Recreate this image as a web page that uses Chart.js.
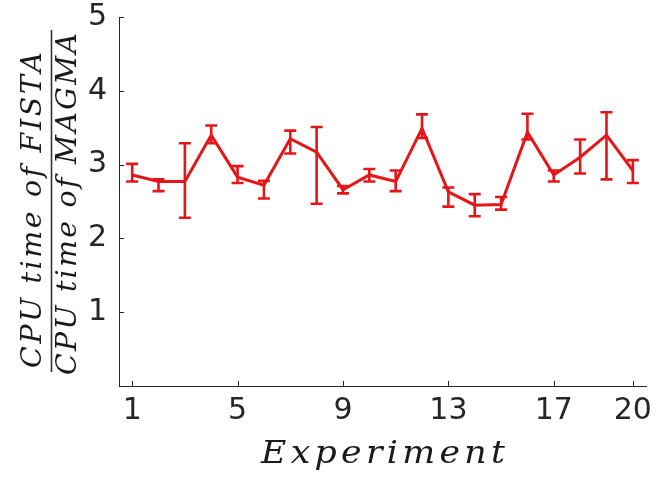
<!DOCTYPE html>
<html>
<head>
<meta charset="utf-8">
<script src="https://cdn.jsdelivr.net/npm/chart.js@4.4.0/dist/chart.umd.min.js"></script>
<style>
html,body{margin:0;padding:0;background:#fff;}
#wrap{width:659px;height:483px;position:relative;}
</style>
</head>
<body>
<div id="wrap"><canvas id="c"></canvas></div>
<script>
// ---- data ----
const experiments = [1,2,3,4,5,6,7,8,9,10,11,12,13,14,15,16,17,18,19,20];
const ratioMean  = [2.86,2.77,2.77,3.40,2.83,2.72,3.35,3.17,2.66,2.86,2.77,3.49,2.63,2.45,2.46,3.44,2.86,3.10,3.40,2.92];
const ratioLow   = [2.77,2.64,2.28,3.29,2.75,2.54,3.15,2.47,2.61,2.77,2.64,3.36,2.43,2.30,2.39,3.34,2.77,2.88,2.80,2.75];
const ratioHigh  = [3.01,2.80,3.29,3.53,2.98,2.78,3.46,3.51,2.71,2.94,2.92,3.68,2.69,2.60,2.56,3.69,2.92,3.34,3.71,3.06];
const xTickValues = [1,5,9,13,17,20];
const yTickValues = [1,2,3,4,5];
const xTitle = 'Experiment';
const yTitleNum = 'CPU time of FISTA';
const yTitleDen = 'CPU time of MAGMA';

const RED = 'rgb(228,22,24)';
const AXIS = '#262626';

function drawFit(ctx, text, x0, target, baseline, stretch) {
  // draw text char by char (optionally stretched) so that it spans `target` px from x0
  ctx.save();
  ctx.translate(x0, baseline);
  ctx.scale(stretch, 1);
  const t = target / stretch;
  const chars = [...text];
  const widths = chars.map(ch => ctx.measureText(ch).width);
  const total = widths.reduce((a,b)=>a+b,0);
  const gap = (t - total) / (chars.length - 1);
  let x = 0;
  chars.forEach((ch,i) => { ctx.fillText(ch, x, 0); x += widths[i] + gap; });
  ctx.restore();
}

const errorBars = {
  id: 'errorBars',
  afterDatasetsDraw(chart) {
    const {ctx, scales:{x, y}} = chart;
    ctx.save();
    ctx.strokeStyle = RED;
    ctx.lineWidth = 2.6;
    const cap = 6;
    experiments.forEach((e,i) => {
      const px = x.getPixelForValue(e);
      const lo = y.getPixelForValue(ratioLow[i]);
      const hi = y.getPixelForValue(ratioHigh[i]);
      ctx.beginPath();
      ctx.moveTo(px, lo); ctx.lineTo(px, hi);
      ctx.moveTo(px-cap, lo); ctx.lineTo(px+cap, lo);
      ctx.moveTo(px-cap, hi); ctx.lineTo(px+cap, hi);
      ctx.stroke();
    });
    ctx.restore();
  }
};

const decorations = {
  id: 'decorations',
  afterDraw(chart) {
    const {ctx, chartArea:{left, bottom}, scales:{x, y}} = chart;
    ctx.save();
    // inward ticks
    ctx.strokeStyle = AXIS; ctx.lineWidth = 1;
    ctx.beginPath();
    yTickValues.forEach(v => { const py = Math.round(y.getPixelForValue(v))+0.5; ctx.moveTo(left, py); ctx.lineTo(left+5, py); });
    xTickValues.forEach(v => { const px = Math.round(x.getPixelForValue(v))+0.5; ctx.moveTo(px, bottom); ctx.lineTo(px, bottom-5); });
    ctx.stroke();

    // x title
    ctx.fillStyle = '#1a1a1a';
    ctx.font = 'italic 31px "DejaVu Serif", serif';
    ctx.textBaseline = 'alphabetic';
    ctx.textAlign = 'left';
    drawFit(ctx, xTitle, 261, 244, 463, 1.12);

    // y title (fraction, rotated)
    const cy = 201;
    ctx.save();
    ctx.translate(0, cy);
    ctx.rotate(-Math.PI/2);
    ctx.font = 'italic 27px "DejaVu Serif", serif';
    drawFit(ctx, yTitleNum, cy-368, 316, 41, 1.05);
    drawFit(ctx, yTitleDen, cy-375, 342, 76, 1.05);
    ctx.restore();
    ctx.strokeStyle = '#333';
    ctx.lineWidth = 1.6;
    ctx.beginPath();
    ctx.moveTo(51.5, 30); ctx.lineTo(51.5, 372);
    ctx.stroke();
    ctx.restore();
  }
};

new Chart(document.getElementById('c'), {
  type: 'line',
  data: {
    datasets: [{
      data: experiments.map((e,i) => ({x: e, y: ratioMean[i]})),
      borderColor: RED,
      borderWidth: 3,
      pointRadius: 0,
      tension: 0,
      fill: false
    }]
  },
  options: {
    responsive: true,
    maintainAspectRatio: false,
    animation: false,
    layout: {padding: {left: 0, right: 13, top: 17, bottom: 0}},
    plugins: {legend: {display: false}, tooltip: {enabled: false}},
    scales: {
      x: {
        type: 'linear', min: 0.5, max: 20.5,
        afterBuildTicks: s => { s.ticks = xTickValues.map(v => ({value: v})); },
        afterFit: s => { s.height = 97; s.paddingLeft = 0; s.paddingRight = 0; },
        ticks: {font: {family: '"DejaVu Sans", sans-serif', size: 30, lineHeight: 1}, color: AXIS, padding: 10, maxRotation: 0, autoSkip: false},
        grid: {drawOnChartArea: false, drawTicks: false},
        border: {color: AXIS, width: 1}
      },
      y: {
        min: 0, max: 5,
        afterBuildTicks: s => { s.ticks = yTickValues.map(v => ({value: v})); },
        afterFit: s => { s.width = 119; s.paddingTop = 0; s.paddingBottom = 0; },
        ticks: {font: {family: '"DejaVu Sans", sans-serif', size: 30, lineHeight: 1}, color: AXIS, padding: 12},
        grid: {drawOnChartArea: false, drawTicks: false},
        border: {color: AXIS, width: 1}
      }
    }
  },
  plugins: [errorBars, decorations]
});
</script>
</body>
</html>
